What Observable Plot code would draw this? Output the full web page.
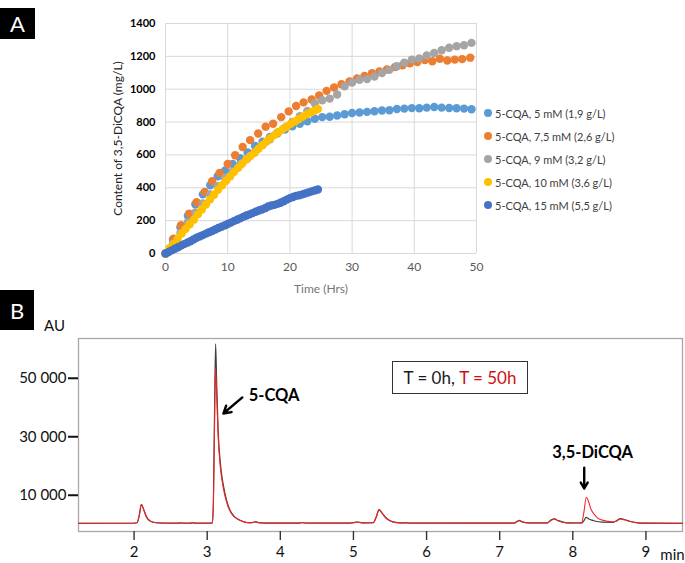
<!DOCTYPE html>
<html>
<head>
<meta charset="utf-8">
<script src="https://cdn.jsdelivr.net/npm/d3@7"></script>
<script src="https://cdn.jsdelivr.net/npm/@observablehq/plot@0.6"></script>
<style>
html,body{margin:0;padding:0;background:#fff;}
#wrap{position:relative;width:685px;height:563px;overflow:hidden;font-family:Lato,"Open Sans",sans-serif;}
.chart{position:absolute;left:0;}
.tag{position:absolute;left:0;background:#000;color:#fff;font-size:22px;display:flex;align-items:center;justify-content:center;font-family:Lato,"Open Sans",sans-serif;}
.leg{position:absolute;left:484px;height:14px;display:flex;align-items:center;font-size:11px;color:#404040;white-space:nowrap;}
.leg i{display:inline-block;width:8px;height:8px;border-radius:50%;margin-right:3px;}
#legB{position:absolute;left:392px;top:361px;width:134px;height:31px;border:1.6px solid #333;display:flex;align-items:center;justify-content:center;font-size:17px;color:#1a1a1a;white-space:nowrap;}
</style>
</head>
<body>
<div id="wrap">
  <div id="chartA" class="chart" style="top:0"></div>
  <div id="chartB" class="chart" style="top:300px"></div>
  <div class="tag" style="top:8px;width:35px;height:31px;">A</div>
  <div class="tag" style="top:290px;width:34px;height:40px;">B</div>
  <div id="legendA"></div>
  <div id="legB">T = 0h,&nbsp;<span style="color:#d01010">T = 50h</span></div>
</div>
<script>
// ---------- Panel A data ----------
const seriesNames = ["5-CQA, 5 mM (1,9 g/L)", "5-CQA, 7,5 mM (2,6 g/L)", "5-CQA, 9 mM (3,2 g/L)", "5-CQA, 10 mM (3,6 g/L)", "5-CQA, 15 mM (5,5 g/L)"];
const seriesColors = ["#5b9bd5", "#ed7d31", "#a5a5a5", "#ffc000", "#4472c4"];
const xTicksA = [0, 10, 20, 30, 40, 50];
const yTicksA = [0, 200, 400, 600, 800, 1000, 1200, 1400];

const t5 = [0,1.2,2.4,3.6,4.8,6,7.2,8.4,9.6,10.8,12,13.2,14.4,15.6,16.8,18,19.2,20.4,21.6,22.8,24,25.2,26.4,27.6,28.8,30,31.2,32.4,33.6,34.8,36,37.2,38.4,39.6,40.8,42,43.2,44.4,45.6,46.8,48,49.2];
const v5 = [0,85,160,230,300,360,415,470,505,545,580,615,655,680,710,735,755,775,790,805,820,830,832,840,848,855,858,862,866,870,872,880,882,885,884,888,892,888,886,884,882,878];

const t75 = [0,1.3,2.5,3.8,5.0,6.3,7.5,8.7,10,11.2,12.4,13.6,14.9,16.1,17.3,18.6,19.8,21,22.2,23.5,24.7,25.9,27.1,28.3,29.6,30.8,32,33.2,34.4,35.6,36.9,38.1,39.3,40.5,41.7,42.9,44.1,45.3,46.5,47.7,49];
const v75 = [0,90,172,243,312,375,440,490,545,598,648,690,730,772,790,830,865,898,920,937,962,990,1010,1030,1048,1065,1080,1098,1108,1120,1135,1145,1158,1165,1178,1170,1185,1175,1180,1183,1192];

const t9 = [0,1.2,2.4,3.6,4.8,6,7.2,8.4,9.6,10.8,12,13.2,14.4,15.6,16.8,18,19.2,20.4,21.6,22.8,24,25.2,26.4,27.6,28.8,30,31.2,32.4,33.6,34.8,36,37.2,38.4,39.6,40.8,42,43.2,44.4,45.6,46.8,48,49.2];
const v9 = [0,60,125,190,250,305,360,410,455,500,540,580,620,660,695,730,765,800,835,868,915,933,943,968,1018,1040,1058,1062,1077,1099,1118,1140,1162,1180,1187,1205,1220,1237,1252,1262,1268,1282];

const t10 = [0,0.65,1.3,1.95,2.6,3.25,3.9,4.55,5.2,5.85,6.5,7.15,7.8,8.45,9.1,9.75,10.4,11.05,11.7,12.35,13,13.65,14.3,14.95,15.6,16.25,16.9,17.55,18.2,18.85,19.5,20.15,20.8,21.45,22.1,22.75,23.4,24.05,24.5];
const v10 = [0,32,58,88,122,150,178,206,238,268,298,328,358,388,415,443,470,497,522,548,572,594,612,638,660,682,703,722,740,757,773,789,804,819,833,847,860,872,880];

const t15 = [0,0.5,1,1.5,2,2.5,3,3.5,4,4.5,5,5.5,6,6.5,7,7.5,8,8.5,9,9.5,10,10.5,11,11.5,12,12.5,13,13.5,14,14.5,15,15.5,16,16.5,17,17.5,18,18.5,19,19.5,20,20.5,21,21.5,22,22.5,23,23.5,24,24.5];
const v15 = [0,9,19,29,38,48,57,66,75,85,96,104,112,121,129,137,146,155,163,171,180,188,197,205,214,223,231,238,246,254,262,268,276,286,292,296,302,309,318,328,337,344,351,355,360,366,372,378,384,390];

// ---------- Panel B data ----------
const xTicksB = [2, 3, 4, 5, 6, 7, 8, 9];
const yTicksB = [10000, 30000, 50000];
const traceT0 = [[1.24,400],[1.6,420],[1.95,420],[2.04,600],[2.07,3000],[2.1,6900],[2.13,5200],[2.17,2600],[2.22,1200],[2.3,600],[2.45,430],[2.62,430],[2.65,600],[2.68,430],[2.78,430],[2.8,550],[2.83,430],[3.04,430],[3.07,600],[3.085,8000],[3.1,38000],[3.115,61800],[3.13,48000],[3.15,32000],[3.18,21000],[3.21,15000],[3.24,11000],[3.28,7000],[3.32,4500],[3.37,2800],[3.43,1700],[3.5,950],[3.58,600],[3.63,700],[3.66,1000],[3.7,650],[3.8,480],[4.25,450],[4.3,650],[4.35,500],[4.9,450],[5.0,650],[5.05,850],[5.12,550],[5.27,600],[5.31,2500],[5.35,5100],[5.39,4000],[5.44,2400],[5.5,1300],[5.58,700],[5.7,520],[5.73,650],[5.76,480],[6.6,450],[7.2,480],[7.24,1100],[7.27,1400],[7.31,900],[7.4,520],[7.65,520],[7.7,1500],[7.75,1900],[7.8,1300],[7.88,750],[7.98,520],[8.12,500],[8.15,1200],[8.18,2400],[8.22,1900],[8.3,1200],[8.4,800],[8.55,750],[8.6,1300],[8.65,2000],[8.7,1700],[8.78,1100],[8.87,650],[8.95,450],[9.5,400]];
const traceT50 = [[1.24,400],[1.95,420],[2.04,600],[2.07,3000],[2.1,6800],[2.13,5100],[2.17,2500],[2.22,1150],[2.3,600],[2.45,430],[2.6,430],[2.63,650],[2.66,430],[2.77,430],[2.8,700],[2.83,430],[3.04,430],[3.07,600],[3.085,7000],[3.1,33000],[3.115,53200],[3.13,44000],[3.15,30000],[3.18,19500],[3.21,14000],[3.24,10000],[3.28,6500],[3.32,4200],[3.37,2600],[3.43,1600],[3.5,900],[3.58,550],[3.63,650],[3.66,900],[3.7,600],[3.8,450],[4.25,450],[4.3,700],[4.35,480],[4.9,450],[5.0,600],[5.05,800],[5.12,520],[5.27,600],[5.31,2400],[5.35,4900],[5.39,3900],[5.44,2300],[5.5,1250],[5.58,650],[5.7,500],[6.6,450],[7.2,480],[7.24,1000],[7.27,1300],[7.31,850],[7.4,500],[7.65,500],[7.7,1400],[7.75,1800],[7.8,1250],[7.88,700],[7.98,500],[8.12,550],[8.15,4000],[8.185,9300],[8.21,8200],[8.25,5100],[8.3,3300],[8.34,2200],[8.4,1500],[8.48,1060],[8.56,850],[8.6,1200],[8.65,1900],[8.7,1600],[8.78,1050],[8.87,600],[8.95,450],[9.5,400]];
const cqaLabel = [{t: 3.567, au: 44020, text: "5-CQA"}];
const dicqaLabel = [{t: 8.271, au: 24540, text: "3,5-DiCQA"}];
const peakArrows = [{t1: 3.481, a1: 43440, t2: 3.221, a2: 37940}, {t1: 8.156, a1: 19380, t2: 8.156, a2: 12300}];

// ---------- build Panel A ----------
const timesA = [t5, t75, t9, t10, t15];
const valuesA = [v5, v75, v9, v10, v15];
const rowsA = seriesNames.flatMap((s, i) => timesA[i].map((t, j) => ({s, t, v: valuesA[i][j]})));

const font = "Lato, 'Open Sans', sans-serif";
const chartA = Plot.plot({
  width: 480, height: 300,
  marginLeft: 165, marginRight: 4, marginTop: 23, marginBottom: 47,
  style: {fontFamily: font, background: "transparent", overflow: "visible"},
  x: {domain: [0, 50]},
  y: {domain: [0, 1400]},
  color: {domain: seriesNames, range: seriesColors},
  marks: [
    Plot.gridX(xTicksA, {stroke: "#d9d9d9", strokeOpacity: 1}),
    Plot.gridY(yTicksA, {stroke: "#d9d9d9", strokeOpacity: 1}),
    Plot.axisX(xTicksA, {tickSize: 0, tickPadding: 9, fontSize: 12, fill: "#595959", label: null, tickFormat: d => String(d)}),
    Plot.axisY(yTicksA, {tickSize: 0, tickPadding: 10, fontSize: 11, fontWeight: "bold", fill: "#000", label: null, tickFormat: d => String(d)}),
    Plot.text(["Content of 3,5-DiCQA (mg/L)"], {text: d => d, frameAnchor: "left", textAnchor: "middle", lineAnchor: "middle", rotate: -90, dx: -47, fontSize: 12, fill: "#222"}),
    Plot.text(["Time (Hrs)"], {text: d => d, frameAnchor: "bottom", textAnchor: "middle", lineAnchor: "middle", dy: 36, fontSize: 12, fill: "#767676"}),
    Plot.dot(rowsA, {x: "t", y: "v", fill: "s", r: 4.2})
  ]
});
document.getElementById("chartA").appendChild(chartA);

// legend A
const legA = document.getElementById("legendA");
seriesNames.forEach((s, i) => {
  const d = document.createElement("div");
  d.className = "leg";
  d.style.top = (106 + i * 23) + "px";
  d.innerHTML = `<i style="background:${seriesColors[i]}"></i>${s}`;
  legA.appendChild(d);
});

// ---------- build Panel B ----------
const rowsB0 = traceT0.map(([t, au]) => ({t, au}));
const rowsB50 = traceT50.map(([t, au]) => ({t, au}));
const chartB = Plot.plot({
  width: 685, height: 263,
  marginLeft: 78, marginRight: 3, marginTop: 38, marginBottom: 32,
  style: {fontFamily: font, background: "transparent", overflow: "visible"},
  x: {domain: [1.24, 9.5]},
  y: {domain: [-2400, 63600]},
  marks: [
    Plot.frame({stroke: "#a8a8a8", strokeWidth: 1.3}),
    Plot.axisY(yTicksB, {tickSize: 10, tickPadding: 2, strokeWidth: 2, stroke: "#111", fontSize: 15, fill: "#111", line: true, label: null,
      tickFormat: d => d3.format(",")(d).replace(/,/g, " ")}),
    Plot.axisX(xTicksB, {tickSize: 9, tickPadding: 6, strokeWidth: 1.4, stroke: "#333", fontSize: 15, fill: "#111", line: true, label: null}),
    Plot.line(rowsB0, {x: "t", y: "au", stroke: "#404040", strokeWidth: 1.2, curve: "monotone-x"}),
    Plot.line(rowsB50, {x: "t", y: "au", stroke: "#f02525", strokeWidth: 1.1, curve: "monotone-x"}),
    Plot.arrow(peakArrows, {x1: "t1", y1: "a1", x2: "t2", y2: "a2", stroke: "#000", strokeWidth: 2.4, headLength: 9, headAngle: 60}),
    Plot.text(cqaLabel, {x: "t", y: "au", text: "text", textAnchor: "start", fontSize: 16.5, fontWeight: "bold", fill: "#000"}),
    Plot.text(dicqaLabel, {x: "t", y: "au", text: "text", textAnchor: "middle", fontSize: 16.5, fontWeight: "bold", fill: "#000"}),
    Plot.text(["AU"], {text: d => d, frameAnchor: "top-left", textAnchor: "middle", lineAnchor: "middle", dx: -24, dy: -12, fontSize: 15, fill: "#111"}),
    Plot.text(["min"], {text: d => d, frameAnchor: "bottom-right", textAnchor: "middle", lineAnchor: "middle", dx: -10, dy: 24, fontSize: 15, fill: "#111"})
  ]
});
document.getElementById("chartB").appendChild(chartB);
</script>
</body>
</html>
